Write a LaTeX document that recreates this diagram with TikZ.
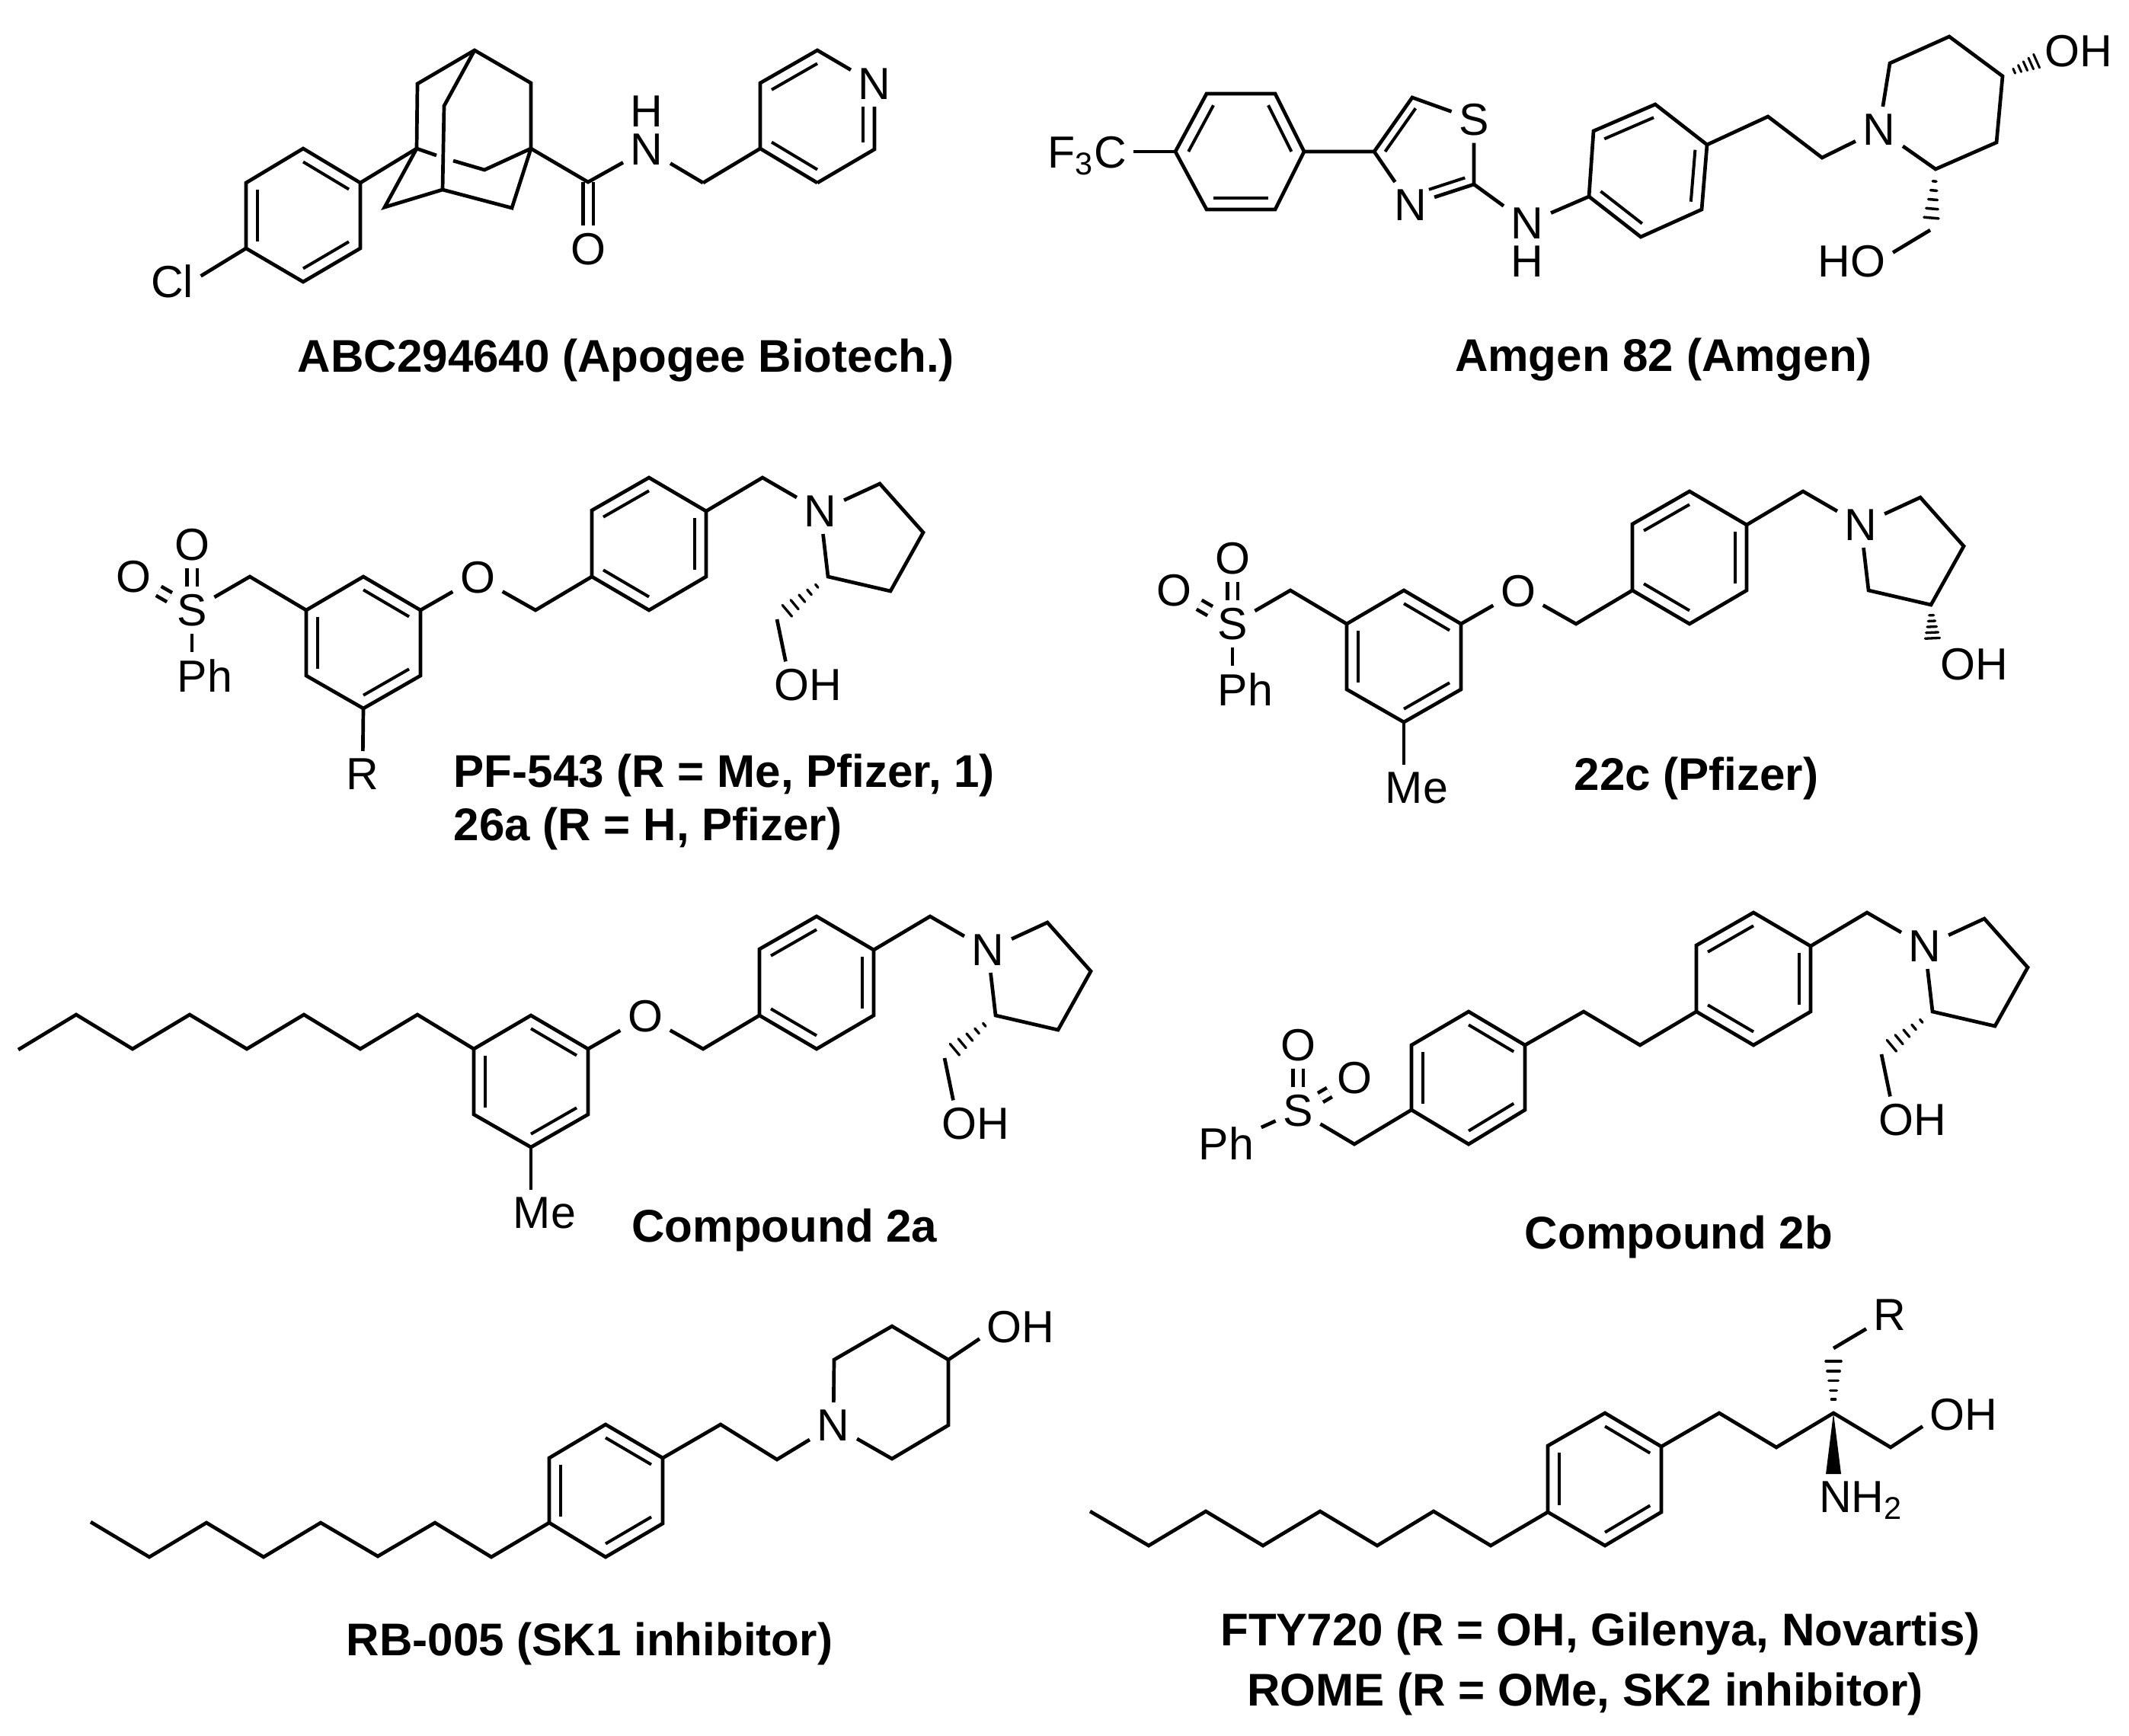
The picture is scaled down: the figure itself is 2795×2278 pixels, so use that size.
\documentclass[tikz,border=0pt]{standalone}
\usepackage{fontspec}
\setmainfont{Liberation Sans}
\usetikzlibrary{calc}

\tikzset{
	bond/.style={line width=0.047cm},
	innerbond/.style={line width=0.04cm},
	dblbond/.style={line width=0.047cm,double,double distance=0.09cm},
	atom/.style={inner sep=0.09cm,font=\fontsize{16.8}{18}\selectfont},
	caption/.style={inner sep=0pt,anchor=base,font=\fontsize{17.1}{20}\bfseries\selectfont}
}

% inner line of a double bond, pulled towards the ring centre
\newcommand{\inbond}[4][]{\draw[innerbond,#1] ($(#2)!.2!(#4)$) -- ($(#3)!.2!(#4)$);}
% six ring corners a..f, double bonds on ab, cd, ef
\newcommand{\benzene}[7]{
	\coordinate (#1a) at (#2); \coordinate (#1b) at (#3); \coordinate (#1c) at (#4);
	\coordinate (#1d) at (#5); \coordinate (#1e) at (#6); \coordinate (#1f) at (#7);
	\coordinate (#1o) at ($(#1a)!.5!(#1d)$);
	\draw[bond] (#1a) -- (#1b) -- (#1c) -- (#1d) -- (#1e) -- (#1f) -- cycle;
	\inbond{#1a}{#1b}{#1o} \inbond{#1c}{#1d}{#1o} \inbond{#1e}{#1f}{#1o}
}
% from, to, half width, stroke, positions
\newcommand{\hashbond}[5]{
	\foreach \pos in {#5}{
		\pgfmathsetmacro{\hw}{#3*\pos*0.01}
		\draw[line width=#4,line cap=round] ($(#1)!\pos!(#2)!\hw cm!90:(#2)$) -- ($(#1)!\pos!(#2)!\hw cm!-90:(#2)$);
	}
}
% ring, benzylic CH2 and pyrrolidine
\newcommand{\benzylpyrr}[3]{
	\begin{scope}[shift={(#2,#3)}]
		\benzene{#1r}{777,670}{852,627}{927,671}{927,757}{852,801}{777,757}
		\coordinate (#1c) at (1001,627);
		\node[atom] (#1n) at (1077,671) {N};
		\foreach \n/\x/\y in {a/1155/635,b/1212/699,g/1169/776,d/1087/757}
			\coordinate (#1\n) at (\x,\y);
		\draw[bond] (#1rc) -- (#1c) -- (#1n);
		\draw[bond] (#1n) -- (#1a) -- (#1b) -- (#1g) -- (#1d) -- (#1n);
	\end{scope}
}
% hashed CH2OH on the pyrrolidine
\newcommand{\prolinol}[3]{
	\begin{scope}[shift={(#2,#3)}]
		\coordinate (#1v) at (1020,813);
		\node[atom] (#1oh) at (1061,899) {OH};
		\hashbond{#1d}{#1v}{12}{0.033cm}{.22,.365,.51,.655,.8}
		\draw[bond] (#1v) -- (#1oh.134);
	\end{scope}
}
% central ring with the ether oxygen
\newcommand{\etherring}[3]{
	\begin{scope}[shift={(#2,#3)}]
		\benzene{#1e}{477,757}{552,801}{552,887}{477,930}{402,887}{402,801}
		\node[atom] (#1ox) at (627,758) {O};
		\coordinate (#1ec) at (703,801);
		\draw[bond] (#1eb) -- (#1ox) -- (#1ec) -- (#1rf);
	\end{scope}
}
% benzyl sulfone on the left
\newcommand{\sulfone}[3]{
	\begin{scope}[shift={(#2,#3)}]
		\coordinate (#1sc) at (328,757);
		\node[atom] (#1s) at (252,801) {S};
		\node[atom] (#1oa) at (252,715) {O};
		\node[atom] (#1ob) at (175.5,757) {O};
		\node[atom] (#1ph) at (269,887) {Ph};
		\draw[dblbond] (#1s) -- (#1oa);
		\draw[dblbond] (#1s) -- (#1ob);
		\draw[bond] (#1ef) -- (#1sc) -- (#1s);
		\draw[bond] (#1s) -- (#1ph.north -| #1s);
	\end{scope}
}

\begin{document}
\begin{tikzpicture}[x=0.01cm,y=-0.01cm]
	\fill[white] (0,0) rectangle (2795,2278);
	\useasboundingbox (0,0) rectangle (2795,2278);

	% ABC294640
	\benzene{cp}{398,195}{473,240}{473,326}{398,370}{323,326}{323,240}
	\node[atom] (cl) at (226,369) {Cl};
	\draw[bond] (cpe) -- (cl.10);
	\foreach \n/\x/\y in {adt/623/66,adul/548/110,adur/697/109,adl/547/195,adr/697/195,
		adit/583/139,adib/581/249,adll/505/272,adlr/672/273,adm/636/223,adga/573/204,adgb/595/211}
		\coordinate (\n) at (\x,\y);
	\draw[bond] (cpb) -- (adl);
	\draw[bond] (adl) -- (adul) -- (adt) -- (adur) -- (adr);
	\draw[bond] (adt) -- (adit) -- (adib);
	\draw[bond] (adl) -- (adll) -- (adib) -- (adlr) -- (adr);
	\draw[bond] (adl) -- (adga);
	\draw[bond] (adgb) -- (adm) -- (adr);
	\coordinate (co) at (772,239);
	\node[atom] (oa) at (772,327) {O};
	\node[atom,inner ysep=0.02cm] (na) at (849,196) {N};
	\node[atom,inner sep=0pt] (ha) at (849,146) {H};
	\coordinate (ca) at (923,240);
	\draw[dblbond] (co) -- (oa);
	\draw[bond] (adr) -- (co) -- (na);
	\draw[bond] (na) -- (ca);
	\foreach \n/\x/\y in {pya/998/195,pyb/998/109,pyc/1073/66,pyd/1148/196,pye/1073/240,pyo/1073/153}
		\coordinate (\n) at (\x,\y);
	\node[atom] (pyn) at (1148,110) {N};
	\draw[bond] (ca) -- (pya);
	\draw[bond] (pye) -- (pya) -- (pyb) -- (pyc) -- (pyn);
	\draw[bond] (pyn) -- (pyd) -- (pye);
	\inbond{pya}{pye}{pyo}
	\inbond{pyb}{pyc}{pyo}
	\inbond[shorten <=0.21cm]{pyn}{pyd}{pyo}
	\node[caption] (capa) at (822,488) {ABC294640 (Apogee Biotech.)};

	% Amgen 82
	\benzene{tf}{1674,123}{1712,199}{1674,275}{1584,275}{1543,199}{1584,123}
	\node[atom,anchor=base] (cf) at (1427,220) {F\textsubscript{3}C};
	\draw[bond] (tfe) -- (cf.east |- tfe);
	\foreach \n/\x/\y in {tha/1804/199,thb/1854/128,thc/1935/242,tho/1876/199}
		\coordinate (\n) at (\x,\y);
	\node[atom] (ths) at (1935,157) {S};
	\node[atom] (thn) at (1852,269) {N};
	\node[atom,inner ysep=0.02cm] (nb) at (2005,293) {N};
	\node[atom,inner sep=0pt] (hb) at (2005,343) {H};
	\draw[bond] (tfb) -- (tha) -- (thb) -- (ths);
	\draw[bond] (ths) -- (thc) -- (thn);
	\draw[bond] (thn) -- (tha);
	\inbond{tha}{thb}{tho}
	\inbond[shorten <=0.2cm]{thn}{thc}{tho}
	\draw[bond] (thc) -- (nb);
	\benzene{an}{2092,172}{2173,137}{2241,190}{2234,275}{2154,311}{2086,258}
	\draw[bond] (nb) -- (anf);
	\foreach \n/\x/\y in {cha/2321/153,chb/2392/207,qa/2481/83,qb/2559/48,qc/2629/100,qd/2621/187,qe/2541/222,qv/2534/302}
		\coordinate (\n) at (\x,\y);
	\node[atom] (nc) at (2467,170) {N};
	\node[atom] (ohb) at (2729,67) {OH};
	\node[atom] (hob) at (2431,343) {HO};
	\draw[bond] (anc) -- (cha) -- (chb) -- (nc);
	\draw[bond] (nc) -- (qa) -- (qb) -- (qc) -- (qd) -- (qe) -- (nc);
	\hashbond{qc}{ohb.193}{10}{0.03cm}{.33,.49,.65,.81,.97}
	\hashbond{qe}{qv}{12}{0.035cm}{.2,.35,.5,.65,.8}
	\draw[bond] (qv) -- (hob.12);
	\node[caption] (capb) at (2184,487) {Amgen 82 (Amgen)};

	% PF-543 / 26a
	\benzylpyrr{pf}{0}{0}
	\prolinol{pf}{0}{0}
	\etherring{pf}{0}{0}
	\sulfone{pf}{0}{0}
	\node[atom] (rc) at (476,1016) {R};
	\draw[bond] (pfed) -- (rc);
	\node[caption,anchor=base west] (capc) at (595,1033) {PF-543 (R = Me, Pfizer, 1)};
	\node[caption,anchor=base west] (capd) at (595,1103) {26a (R = H, Pfizer)};

	% 22c
	\benzylpyrr{pz}{1366}{18}
	\etherring{pz}{1366}{18}
	\sulfone{pz}{1366}{18}
	\node[atom] (mea) at (1860,1034) {Me};
	\draw[bond] (pzed) -- (mea.north -| pzed);
	\node[atom] (ohd) at (2592,872) {OH};
	\hashbond{pzg}{ohd.170}{15}{0.033cm}{.2,.31,.42,.53,.64}
	\node[caption] (cape) at (2227,1037) {22c (Pfizer)};

	% Compound 2a
	\benzylpyrr{oa}{220}{576}
	\prolinol{oa}{220}{576}
	\etherring{oa}{220}{576}
	\foreach \n/\x/\y in {oca/24/1378,ocb/100/1332,occ/174/1377,ocd/249/1332,oce/324/1377,ocf/399/1332,ocg/473/1377,och/548/1332}
		\coordinate (\n) at (\x,\y);
	\draw[bond] (oca) -- (ocb) -- (occ) -- (ocd) -- (oce) -- (ocf) -- (ocg) -- (och) -- (oaef);
	\node[atom] (meb) at (715,1592) {Me};
	\draw[bond] (oaed) -- (meb.north -| oaed);
	\node[caption] (capf) at (1030,1630) {Compound 2a};

	% Compound 2b
	\benzylpyrr{tb}{1450}{571}
	\prolinol{tb}{1450}{571}
	\benzene{sb}{1928,1328}{2002,1372}{2002,1457}{1928,1502}{1853,1457}{1853,1372}
	\coordinate (ea) at (2153,1372);
	\coordinate (eb) at (2079,1328);
	\coordinate (ec) at (1778,1502);
	\node[atom] (sc) at (1704,1458) {S};
	\node[atom] (oc) at (1704,1372) {O};
	\node[atom] (od) at (1778,1415) {O};
	\node[atom] (phc) at (1610,1501) {Ph};
	\draw[dblbond] (sc) -- (oc);
	\draw[dblbond] (sc) -- (od);
	\draw[bond] (tbrf) -- (ea) -- (eb) -- (sbb);
	\draw[bond] (sbe) -- (ec) -- (sc);
	\draw[bond] (sc) -- (phc);
	\node[caption] (capg) at (2204,1639) {Compound 2b};

	% RB-005
	\benzene{rb}{795,1870}{870,1914}{870,2000}{795,2044}{721,1999}{721,1914}
	\foreach \n/\x/\y in {rca/119/1998,rcb/196/2044,rcc/271/1999,rcd/346/2044,rce/421/1999,rcf/496/2043,rcg/571/1999,rch/645/2044,
		rda/946/1870,rdb/1020/1916,ppa/1095/1785,ppb/1171/1741,ppc/1245/1785,ppd/1245/1871,ppe/1171/1915}
		\coordinate (\n) at (\x,\y);
	\node[atom] (nd) at (1094,1871) {N};
	\node[atom] (ohe) at (1340,1742) {OH};
	\draw[bond] (rca) -- (rcb) -- (rcc) -- (rcd) -- (rce) -- (rcf) -- (rcg) -- (rch) -- (rbe);
	\draw[bond] (rbb) -- (rda) -- (rdb) -- (nd);
	\draw[bond] (nd) -- (ppa) -- (ppb) -- (ppc) -- (ppd) -- (ppe) -- (nd);
	\draw[bond] (ppc) -- (ohe.196);
	\node[caption] (caph) at (774,2173) {RB-005 (SK1 inhibitor)};

	% FTY720 / ROME
	\benzene{fy}{2107,1855}{2181,1899}{2181,1985}{2107,2029}{2032,1985}{2032,1898}
	\foreach \n/\x/\y in {fca/1431/1984,fcb/1508/2029,fcc/1583/1984,fcd/1658/2029,fce/1733/1984,fcf/1808/2029,fcg/1882/1984,fch/1957/2029,
		fda/2257/1855,fdb/2332/1900,fq/2407/1855,fdc/2482/1900,fv/2407/1770,wla/2397/1935,wlb/2417/1935}
		\coordinate (\n) at (\x,\y);
	\node[atom] (rd) at (2481,1726) {R};
	\node[atom] (ohf) at (2578,1857) {OH};
	\node[atom,anchor=base] (nh) at (2443,1985) {NH\textsubscript{2}};
	\draw[bond] (fca) -- (fcb) -- (fcc) -- (fcd) -- (fce) -- (fcf) -- (fcg) -- (fch) -- (fye);
	\draw[bond] (fyb) -- (fda) -- (fdb) -- (fq) -- (fdc) -- (ohf.196);
	\fill (fq) -- (wla) -- (wlb) -- cycle;
	\hashbond{fq}{fv}{12.5}{0.035cm}{.21,.35,.5,.65,.8}
	\draw[bond] (fv) -- (rd);
	\node[caption] (capi) at (2101,2160) {FTY720 (R = OH, Gilenya, Novartis)};
	\node[caption] (capj) at (2081,2239) {ROME (R = OMe, SK2 inhibitor)};
\end{tikzpicture}
\end{document}
